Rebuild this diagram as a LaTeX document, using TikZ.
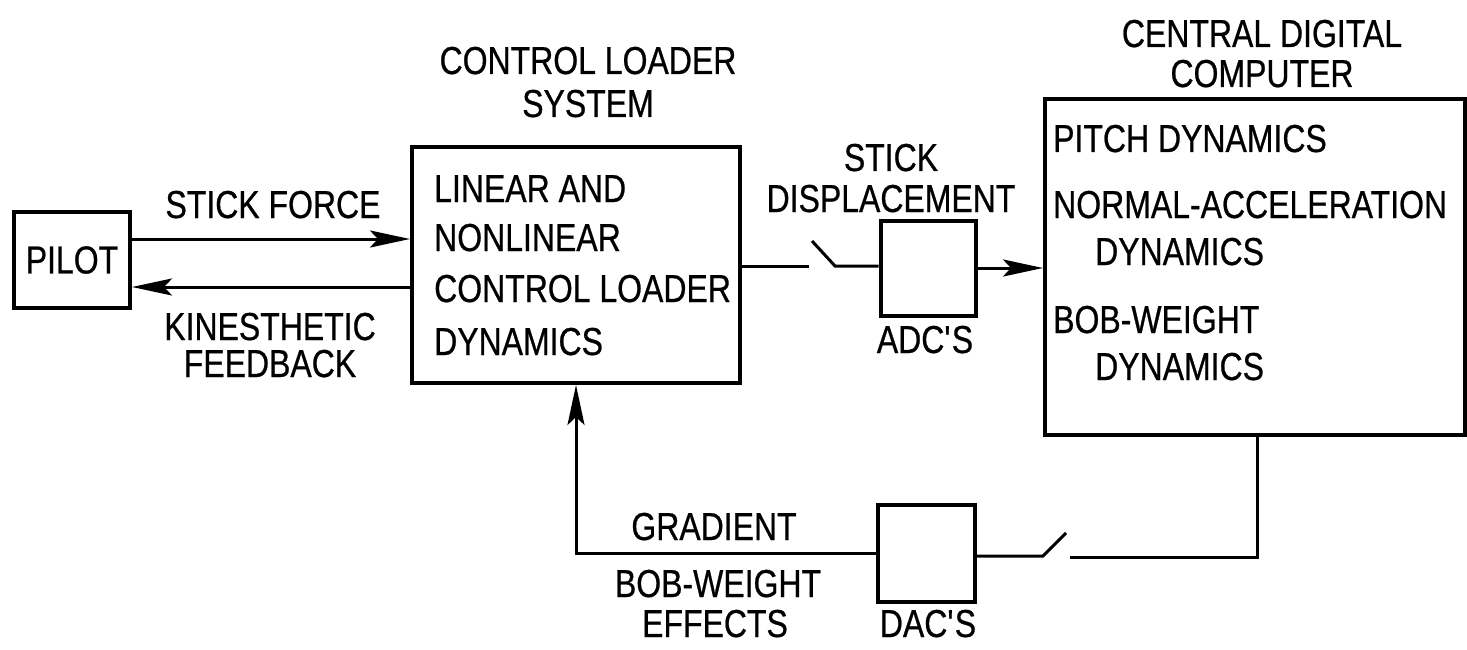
\documentclass[tikz,border=0pt]{standalone}
\usepackage{fontspec}
\setmainfont{Liberation Sans}[FakeStretch=0.82,FakeBold=0.6]
\usetikzlibrary{arrows.meta}
\begin{document}
\begin{tikzpicture}[x=1pt,y=-1pt, font=\fontsize{39}{47}\selectfont,
  box/.style={draw, line width=4pt, inner sep=0pt},
  conn/.style={line width=3pt},
  arr/.style={conn, -{Stealth[length=40pt,width=17pt,inset=8pt]}},
  lbl/.style={inner sep=0pt, anchor=base},
  lblw/.style={inner sep=0pt, anchor=base west}]
\useasboundingbox (0,0) rectangle (1467,650);

% boxes
\node[box, minimum width=116pt, minimum height=96pt] (pilot) at (72,260) {PILOT};
\node[box, minimum width=328pt, minimum height=236pt] (ctrl) at (576,265) {};
\node[box, minimum width=95pt, minimum height=95pt] (adc) at (928,268) {};
\node[box, minimum width=420pt, minimum height=336pt] (comp) at (1255,267) {};
\node[box, minimum width=97pt, minimum height=97pt] (dac) at (926.5,553.5) {};

% texts in control loader box
\node[lblw] (c1) at (434,202) {LINEAR AND};
\node[lblw] (c2) at (434,251) {NONLINEAR};
\node[lblw] (c3) at (434,302) {CONTROL LOADER};
\node[lblw] (c4) at (434,355) {DYNAMICS};

% texts in computer box
\node[lblw] (k1) at (1053,152) {PITCH DYNAMICS};
\node[lblw] (k2) at (1053,218) {NORMAL-ACCELERATION};
\node[lblw] (k3) at (1095,265) {DYNAMICS};
\node[lblw] (k4) at (1053,333) {BOB-WEIGHT};
\node[lblw] (k5) at (1095,380) {DYNAMICS};

% headings and labels
\node[lbl] (h1) at (588,74) {CONTROL LOADER};
\node[lbl] (h2) at (588,117) {SYSTEM};
\node[lbl] (h3) at (1262,47) {CENTRAL DIGITAL};
\node[lbl] (h4) at (1262,87) {COMPUTER};
\node[lbl] (l1) at (273,218) {STICK FORCE};
\node[lbl] (l2) at (270,340) {KINESTHETIC};
\node[lbl] (l3) at (270,377) {FEEDBACK};
\node[lbl] (l4) at (891,171) {STICK};
\node[lbl] (l5) at (891,212) {DISPLACEMENT};
\node[lbl] (l6) at (925,353) {ADC\textquotesingle S};
\node[lbl] (l7) at (714,540) {GRADIENT};
\node[lbl] (l8) at (718,597) {BOB-WEIGHT};
\node[lbl] (l9) at (715,637) {EFFECTS};
\node[lbl] (l10) at (928,637) {DAC\textquotesingle S};

% connectors
\coordinate (sf) at ([yshift=21pt]pilot.east);
\coordinate (kf) at ([yshift=-27pt]pilot.east);
\draw[arr] (sf) -- (sf -| ctrl.west);
\draw[arr] (kf -| ctrl.west) -- (kf);

\coordinate (sw1a) at (809,266);
\coordinate (sw1b) at (812,241);
\coordinate (sw1c) at (835,266);
\draw[conn] (ctrl.east |- sw1a) -- (sw1a);
\draw[conn] (sw1b) -- (sw1c) -- (adc.west |- sw1c);
\draw[arr] (adc.east) -- (adc.east -| comp.west);

\coordinate (sw2r) at (1070,557);
\coordinate (sw2b) at (1066,533);
\coordinate (sw2a) at (1043,556);
\draw[conn] ([xshift=2pt]comp.south) |- (sw2r);
\draw[conn] (sw2b) -- (sw2a) -- (dac.east |- sw2a);
\draw[arr] (dac.west) -| (ctrl.south);
\end{tikzpicture}
\end{document}
